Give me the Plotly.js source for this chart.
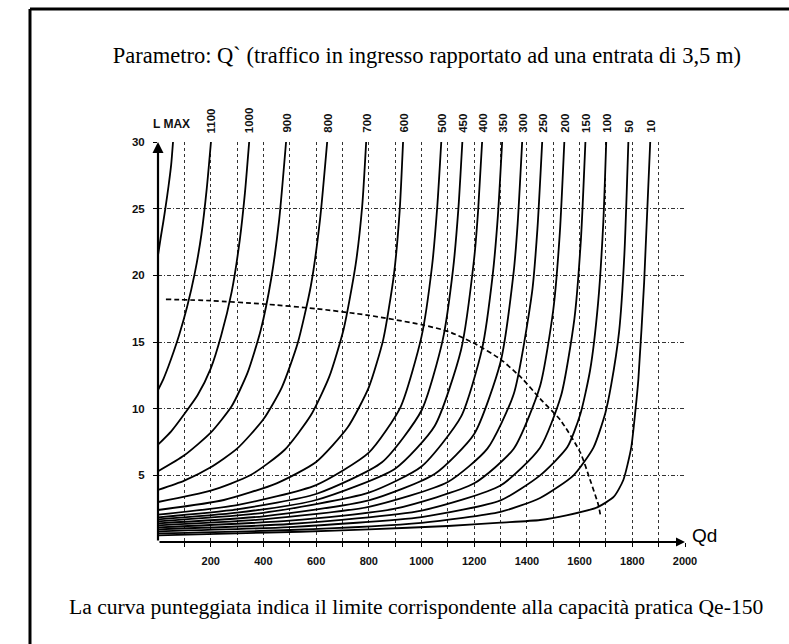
<!DOCTYPE html>
<html>
<head>
<meta charset="utf-8">
<script src="https://cdn.plot.ly/plotly-3.0.1.min.js"></script>
<style>html,body{margin:0;padding:0;background:#fff;}</style>
</head>
<body>
<div id="chart" style="width:789px;height:644px;"></div>
<script>
// ---- data ----
const curveLabels = ["1100","1000","900","800","700","600","500","450","400","350","300","250","200","150","100","50","10"];
const labelQd     = [201, 346, 486, 642, 790, 930, 1075, 1155, 1230, 1306, 1382, 1458, 1542, 1622, 1701, 1785, 1868];

const qd_u    = [0, 10, 20, 30, 40, 50, 57];
const L_u     = [21.5, 22.8, 24.0, 25.3, 26.7, 28.3, 30];
const qd_1100 = [0, 20, 40, 60, 80, 110, 140, 165, 185, 201];
const L_1100  = [11.4, 12.2, 13.2, 14.3, 15.5, 17.6, 20.2, 23.1, 26.5, 30];
const qd_1000 = [0, 50, 100, 150, 200, 240, 280, 310, 330, 346];
const L_1000  = [7.3, 8.3, 9.6, 11.0, 13.0, 15.5, 18.8, 22.6, 26.2, 30];
const qd_900  = [0, 100, 200, 280, 340, 390, 430, 460, 486];
const L_900   = [5.3, 6.5, 8.2, 10.2, 12.7, 15.9, 19.8, 24.2, 30];
const qd_800  = [0, 100, 200, 300, 400, 470, 530, 580, 615, 642];
const L_800   = [3.9, 4.6, 5.6, 7.0, 9.2, 11.6, 14.9, 19.2, 24.2, 30];
const qd_700  = [0, 200, 350, 480, 580, 650, 705, 750, 775, 790];
const L_700   = [3.0, 3.85, 5.0, 6.9, 9.5, 12.4, 16.0, 20.8, 25.2, 30];
const qd_600  = [0, 250, 450, 600, 720, 800, 855, 895, 917, 930];
const L_600   = [2.4, 3.15, 4.4, 6.0, 8.6, 11.6, 15.2, 20.0, 24.8, 30];
const qd_500  = [0, 300, 600, 800, 920, 1000, 1040, 1060, 1075];
const L_500   = [2.05, 2.77, 4.27, 6.7, 10.1, 15.4, 20.7, 25.2, 30];
const qd_450  = [0, 300, 600, 850, 1000, 1080, 1120, 1140, 1155];
const L_450   = [1.85, 2.45, 3.6, 5.98, 9.86, 15.1, 20.5, 25.0, 30];
const qd_400  = [0, 300, 600, 900, 1050, 1150, 1200, 1215, 1230];
const L_400   = [1.7, 2.2, 3.15, 5.5, 8.7, 14.4, 21.3, 24.9, 30];
const qd_350  = [0, 400, 800, 1000, 1150, 1230, 1270, 1290, 1306];
const L_350   = [1.55, 2.19, 3.7, 5.66, 9.4, 14.5, 20.0, 24.5, 30];
const qd_300  = [0, 400, 800, 1050, 1200, 1300, 1350, 1365, 1382];
const L_300   = [1.4, 1.93, 3.12, 5.1, 8.1, 13.5, 20.3, 23.9, 30];
const qd_250  = [0, 400, 800, 1100, 1250, 1350, 1420, 1440, 1458];
const L_250   = [1.25, 1.7, 2.64, 4.5, 7.0, 11.1, 18.8, 23.5, 30];
const qd_200  = [0, 500, 900, 1200, 1350, 1450, 1500, 1525, 1542];
const L_200   = [1.1, 1.6, 2.5, 4.4, 7.0, 11.7, 17.4, 23.2, 30];
const qd_150  = [0, 500, 1000, 1300, 1450, 1530, 1580, 1605, 1622];
const L_150   = [0.95, 1.35, 2.36, 4.24, 7.07, 11.0, 16.7, 22.7, 30];
const qd_100  = [0, 500, 1000, 1300, 1450, 1553, 1603, 1640, 1670, 1690, 1701];
const L_100   = [0.8, 1.12, 1.87, 3.12, 5.0, 7.1, 9.6, 12.9, 17.9, 24.0, 30];
const qd_50   = [0, 500, 1000, 1300, 1450, 1577, 1653, 1698, 1720, 1750, 1770, 1785];
const L_50    = [0.65, 0.9, 1.44, 2.26, 3.3, 5.0, 7.1, 9.7, 11.8, 15.8, 21.6, 30];
const qd_10   = [0, 300, 540, 800, 1100, 1300, 1450, 1550, 1667, 1730, 1766, 1796, 1811, 1823, 1845, 1868];
const L_10    = [0.5, 0.65, 0.77, 0.95, 1.2, 1.45, 1.65, 2.0, 2.6, 3.4, 4.65, 7.1, 9.7, 12.2, 19.5, 30];

// dotted limit curve (practical capacity Qe-150)
const qd_lim = [30, 200, 400, 600, 800, 1000, 1100, 1200, 1300, 1380, 1450, 1527, 1603, 1640, 1671, 1680];
const L_lim  = [18.2, 18.1, 17.85, 17.5, 17.0, 16.3, 15.8, 14.9, 13.7, 12.3, 10.75, 9.15, 6.7, 4.65, 2.8, 1.9];

const xTickVals = [100,200,300,400,500,600,700,800,900,1000,1100,1200,1300,1400,1500,1600,1700,1800,1900,2000];
const xTickText = ["","200","","400","","600","","800","","1000","","1200","","1400","","1600","","1800","","2000"];
const yTickVals = [5,10,15,20,25,30];
const yTickText = ["5","10","15","20","25","30"];

const titleText  = "Parametro: Q` (traffico in ingresso rapportato ad una entrata di 3,5 m)";
const footerText = "La curva punteggiata indica il limite corrispondente alla capacità pratica Qe-150";

// ---- build ----
const curves = [
  [qd_u, L_u], [qd_1100, L_1100], [qd_1000, L_1000], [qd_900, L_900], [qd_800, L_800],
  [qd_700, L_700], [qd_600, L_600], [qd_500, L_500], [qd_450, L_450], [qd_400, L_400],
  [qd_350, L_350], [qd_300, L_300], [qd_250, L_250], [qd_200, L_200], [qd_150, L_150],
  [qd_100, L_100], [qd_50, L_50], [qd_10, L_10]
];
const traces = curves.map(c => ({
  x: c[0], y: c[1], type: 'scatter', mode: 'lines',
  line: {color: '#000', width: 1.8, shape: 'spline', smoothing: 0.6},
  hoverinfo: 'skip'
}));
traces.push({
  x: qd_lim, y: L_lim, type: 'scatter', mode: 'lines',
  line: {color: '#000', width: 1.7, dash: '5px,3px', shape: 'spline', smoothing: 0.6},
  hoverinfo: 'skip'
});

const sans = 'Liberation Sans, Arial, sans-serif';
const serif = 'Liberation Serif, Times New Roman, serif';

const annotations = curveLabels.map((t, i) => ({
  x: labelQd[i], y: 30, xref: 'x', yref: 'y', text: '<b>' + t + '</b>',
  textangle: -90, xanchor: 'center', yanchor: 'bottom', yshift: 7,
  showarrow: false, font: {family: sans, size: 11.5, color: '#111'}
}));
annotations.push({x: 52, y: 30, xref: 'x', yref: 'y', text: '<b>L MAX</b>', showarrow: false,
  yanchor: 'bottom', yshift: 9, font: {family: sans, size: 12, color: '#111'}});
annotations.push({x: 2000, y: 0, xref: 'x', yref: 'y', text: 'Qd', showarrow: false,
  xanchor: 'left', xshift: 5, yanchor: 'middle', yshift: 7, font: {family: sans, size: 19, color: '#000'}});
annotations.push({x: 0, y: 30, ax: 0, ay: 0, axref: 'x', ayref: 'y', xref: 'x', yref: 'y', text: '',
  showarrow: true, arrowhead: 2, arrowsize: 1, arrowwidth: 2.2, arrowcolor: '#000'});
annotations.push({x: 2000, y: 0, ax: 0, ay: 0, axref: 'x', ayref: 'y', xref: 'x', yref: 'y', text: '',
  showarrow: true, arrowhead: 2, arrowsize: 1, arrowwidth: 1.8, arrowcolor: '#000'});
annotations.push({x: 0.4896, y: -0.1625, xref: 'paper', yref: 'paper', text: footerText, showarrow: false,
  xanchor: 'center', yanchor: 'middle', font: {family: serif, size: 21.6, color: '#000'}});

const layout = {
  width: 789, height: 644,
  margin: {l: 158, r: 104, t: 142, b: 102},
  paper_bgcolor: '#fff', plot_bgcolor: '#fff',
  showlegend: false,
  title: {text: titleText, x: 0.541, xref: 'container', y: 0.9146, yref: 'container',
          xanchor: 'center', yanchor: 'middle', font: {family: serif, size: 22.5, color: '#000'}},
  xaxis: {
    range: [0, 2000], tickmode: 'array', tickvals: xTickVals, ticktext: xTickText,
    ticks: 'outside', ticklen: 4, tickcolor: '#000', tickwidth: 1, ticklabelstandoff: 5,
    showgrid: true, gridcolor: '#333', gridwidth: 1, griddash: 'dot',
    zeroline: false, showline: false,
    tickfont: {family: sans, size: 11, color: '#111', weight: 'bold'}, tickangle: 0
  },
  yaxis: {
    range: [0, 30], tickmode: 'array', tickvals: yTickVals, ticktext: yTickText,
    ticks: 'outside', ticklen: 4, tickcolor: '#000', tickwidth: 1, ticklabelstandoff: 6,
    showgrid: true, gridcolor: '#333', gridwidth: 1, griddash: '4px,2px,1px,2px',
    zeroline: false, showline: false,
    tickfont: {family: sans, size: 11.5, color: '#111', weight: 'bold'}
  },
  annotations: annotations,
  shapes: [
    {type: 'line', xref: 'paper', yref: 'paper', x0: -0.2429, x1: -0.2429, y0: -0.3, y1: 1.3325,
     line: {color: '#000', width: 3}},
    {type: 'line', xref: 'paper', yref: 'paper', x0: -0.2429, x1: 1.25, y0: 1.3325, y1: 1.3325,
     line: {color: '#000', width: 3}}
  ]
};

Plotly.newPlot('chart', traces, layout, {staticPlot: true, displayModeBar: false});
</script>
</body>
</html>
